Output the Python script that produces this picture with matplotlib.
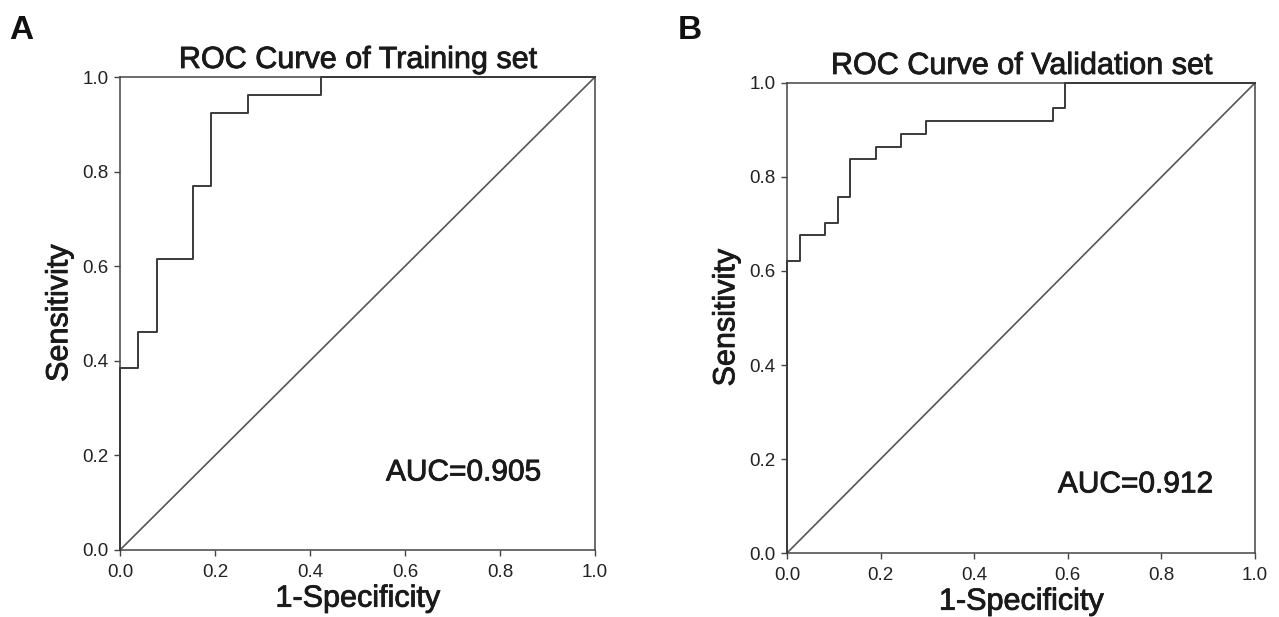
import matplotlib
matplotlib.use("Agg")
import matplotlib.pyplot as plt
import matplotlib.patheffects as pe

plt.rcParams['font.family'] = ['Liberation Sans', 'DejaVu Sans']

# Training set ROC steps (26 positives / 26 negatives)
train_fpr = [0, 0, 1/26, 1/26, 2/26, 2/26, 4/26, 4/26, 5/26, 5/26, 7/26, 7/26, 11/26, 11/26, 1.0]
train_tpr = [0, 10/26, 10/26, 12/26, 12/26, 16/26, 16/26, 20/26, 20/26, 24/26, 24/26, 25/26, 25/26, 1.0, 1.0]
train_auc = "AUC=0.905"

# Validation set ROC steps (37 positives / 37 negatives)
val_fpr = [0, 0, 1/37, 1/37, 3/37, 3/37, 4/37, 4/37, 5/37, 5/37, 7/37, 7/37,
           9/37, 9/37, 11/37, 11/37, 21/37, 21/37, 22/37, 22/37, 1.0]
val_tpr = [0, 23/37, 23/37, 25/37, 25/37, 26/37, 26/37, 28/37, 28/37, 31/37, 31/37, 32/37,
           32/37, 33/37, 33/37, 34/37, 34/37, 35/37, 35/37, 1.0, 1.0]
val_auc = "AUC=0.912"

ticks = [0.0, 0.2, 0.4, 0.6, 0.8, 1.0]
tick_labels = ["0.0", "0.2", "0.4", "0.6", "0.8", "1.0"]

fig = plt.figure(figsize=(12.79, 6.17), dpi=100)

panels = [
    ([0.0938, 0.1086, 0.3714, 0.7666], train_fpr, train_tpr, "ROC Curve of Training set",
     train_auc, (0.56, 0.147), "A", (0.007, 0.95)),
    ([0.6153, 0.1037, 0.3659, 0.7618], val_fpr, val_tpr, "ROC Curve of Validation set",
     val_auc, (0.579, 0.129), "B", (0.530, 0.95)),
]

txt_col = "#1a1a1a"
heavy = [pe.withStroke(linewidth=0.6, foreground=txt_col)]
line_col = "#3a3a3a"
for rect, fpr, tpr, title, auc, auc_pos, letter, letter_pos in panels:
    ax = fig.add_axes(rect)
    ax.plot(fpr, tpr, color=line_col, lw=1.4, clip_on=False, zorder=3)
    ax.plot([0, 1], [0, 1], color="#555555", lw=1.2, clip_on=False)
    ax.set_xlim(0, 1)
    ax.set_ylim(0, 1)
    ax.set_xticks(ticks)
    ax.set_xticklabels(tick_labels)
    ax.set_yticks(ticks)
    ax.set_yticklabels(tick_labels)
    ax.tick_params(direction="out", length=4.5, width=1, color="#444444",
                   labelsize=13.5, labelcolor="#222222")
    ax.tick_params(axis="x", pad=5.5)
    ax.tick_params(axis="y", pad=3.5)
    for s in ax.spines.values():
        s.set_color("#444444")
        s.set_linewidth(1.1)
    ax.set_title(title, fontsize=22, color=txt_col, pad=6.5, path_effects=heavy)
    ax.set_xlabel("1-Specificity", fontsize=22, color=txt_col, labelpad=2, path_effects=heavy)
    ax.set_ylabel("Sensitivity", fontsize=22, color=txt_col, labelpad=6, path_effects=heavy)
    ax.text(auc_pos[0], auc_pos[1], auc, fontsize=21.5, color=txt_col,
            transform=ax.transAxes, ha="left", va="baseline", path_effects=heavy)
    fig.text(letter_pos[0], letter_pos[1], letter, fontsize=24, fontweight="bold",
             color="#111111", ha="left", va="center")

fig.savefig("out.png", dpi=100, facecolor="white")
